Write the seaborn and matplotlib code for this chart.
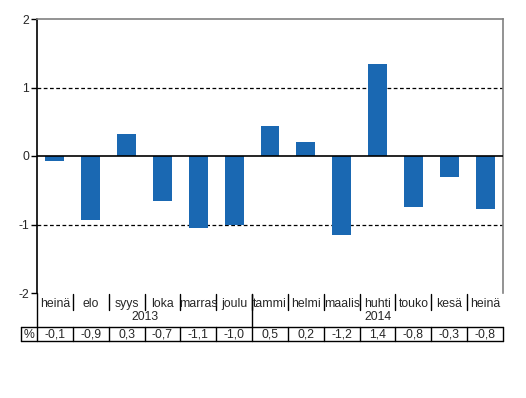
import matplotlib
matplotlib.use("Agg")
import matplotlib.pyplot as plt
import matplotlib.transforms as mtransforms
from matplotlib.lines import Line2D
import seaborn as sns
import pandas as pd

months = ["heinä", "elo", "syys", "loka", "marras", "joulu",
          "tammi", "helmi", "maalis", "huhti", "touko", "kesä", "heinä"]
years = ["2013", "2014"]
year_counts = [6, 7]
values = [-0.07, -0.94, 0.32, -0.66, -1.05, -1.0,
          0.44, 0.21, -1.15, 1.34, -0.75, -0.30, -0.78]
labels_pct = ["-0,1", "-0,9", "0,3", "-0,7", "-1,1", "-1,0",
              "0,5", "0,2", "-1,2", "1,4", "-0,8", "-0,3", "-0,8"]

sns.set_style("white")
plt.rcParams['font.family'] = ['Liberation Sans', 'DejaVu Sans']
FS = 8.8

W, H = 526, 398
fig = plt.figure(figsize=(W / 100, H / 100), dpi=100)
L, R, T, B = 37, 503, 19, 293
ax = fig.add_axes([L / W, 1 - B / H, (R - L) / W, (B - T) / H])

df = pd.DataFrame({"pos": [str(i) for i in range(len(values))], "val": values})
sns.barplot(data=df, x="pos", y="val", color="#1a68b2", width=0.53,
            saturation=1, ax=ax, edgecolor="none")

ax.set_xlim(-0.5, len(values) - 0.5)
ax.set_ylim(-2, 2)
ax.set_yticks([-2, -1, 0, 1, 2])
ax.set_yticklabels(["-2", "-1", "0", "1", "2"], fontsize=FS)
ax.set_xticks([])
ax.set_xlabel("")
ax.set_ylabel("")
ax.tick_params(axis="y", direction="out", length=4, width=1, color="black", pad=1.5, left=True)

for s in ["top", "right"]:
    ax.spines[s].set_color("#808080")
    ax.spines[s].set_linewidth(1.2)
ax.spines["bottom"].set_visible(False)
ax.spines["left"].set_color("black")
ax.spines["left"].set_linewidth(1.2)

ax.axhline(0, color="black", lw=1.2, zorder=3)
for yv in [1, -1]:
    ax.axhline(yv, color="black", lw=0.9, ls=(0, (3, 2)), zorder=0)

# table below the plot
tr = mtransforms.blended_transform_factory(ax.transData, fig.transFigure)
def fy(p):
    return 1 - p / H

n = len(values)
def line(x0, x1, y0, y1, t=tr, c="black", lw=1.0):
    fig.add_artist(Line2D([x0, x1], [y0, y1], transform=t, color=c, lw=lw, clip_on=False))

# left axis extension
line(-0.5, -0.5, fy(B), fy(327))
# month separators
for i in range(1, n):
    line(i - 0.5, i - 0.5, fy(294), fy(310))
# year separator(s)
acc = 0
for c in year_counts[:-1]:
    acc += c
    line(acc - 0.5, acc - 0.5, fy(294), fy(327))
# month labels
for i, m in enumerate(months):
    fig.text(i, fy(307), m, transform=tr, ha="center", va="baseline", fontsize=FS)
# year labels
acc = 0
for yname, c in zip(years, year_counts):
    fig.text(acc + (c - 1) / 2, fy(320), yname, transform=tr, ha="center", va="baseline", fontsize=FS)
    acc += c

# % row
trp = mtransforms.blended_transform_factory(fig.transFigure, fig.transFigure)
x_left = 21 / W
x_right = R / W
line(x_left, x_right, fy(327), fy(327), t=trp)
line(x_left, x_right, fy(341), fy(341), t=trp)
line(x_left, x_left, fy(327), fy(341), t=trp)
line(x_right, x_right, fy(327), fy(341), t=trp)
for i in range(0, n):
    line(i - 0.5, i - 0.5, fy(327), fy(341))
fig.text((x_left + L / W) / 2, fy(337.5), "%", transform=trp, ha="center", va="baseline", fontsize=FS)
for i, lab in enumerate(labels_pct):
    fig.text(i, fy(337.5), lab, transform=tr, ha="center", va="baseline", fontsize=FS)

fig.savefig("out.png", dpi=100)
